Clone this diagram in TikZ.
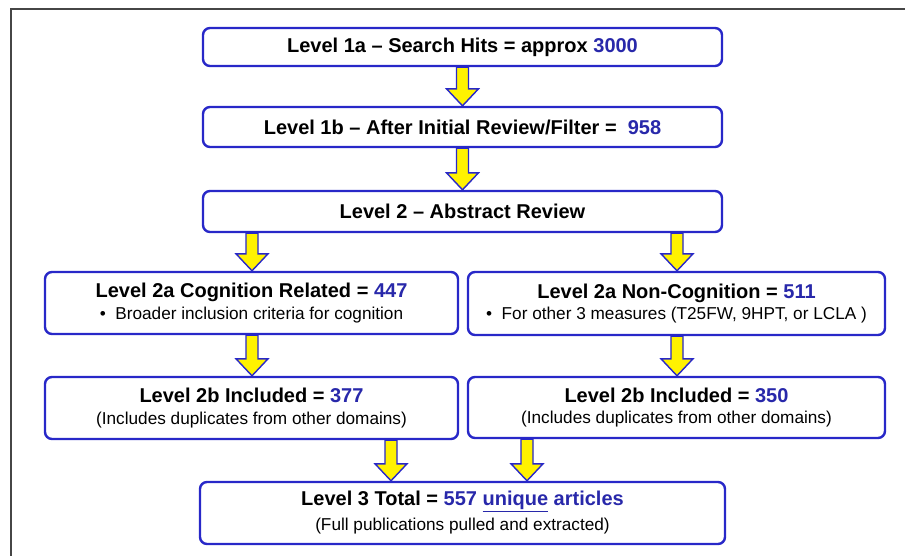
\documentclass[tikz,border=0pt]{standalone}
\usepackage{fontspec}
\setmainfont{Liberation Sans}
\usetikzlibrary{calc}
\definecolor{boxblue}{RGB}{40,40,200}
\definecolor{numblue}{RGB}{40,40,170}
\definecolor{framegray}{RGB}{70,70,70}
\tikzset{
 box/.style={draw=boxblue, line width=2.4pt, rounded corners=7pt, fill=white, align=center, inner sep=0pt, font=\fontsize{17}{21.5}\selectfont},
 fat/.style={draw=boxblue, line width=1.4pt, fill=yellow, line join=miter},
}
\newcommand\ttl[1]{{\fontsize{20}{21.5}\selectfont\bfseries #1}}
\newcommand\sbt[1]{{\fontsize{17.2}{21.5}\selectfont #1}}
\newcommand\blu[1]{\textcolor{numblue}{#1}}
\newcommand\fatarrow[2]{\path[fat] let \p1=(#1), \p2=(#2) in (\x1-6pt,\y1) -- (\x1+6pt,\y1) -- (\x1+6pt,\y2+17pt) -- (\x1+16pt,\y2+17pt) -- (\x1,\y2) -- (\x1-16pt,\y2+17pt) -- (\x1-6pt,\y2+17pt) -- cycle;}
\begin{document}
\begin{tikzpicture}[x=1pt,y=-1pt]
\useasboundingbox[fill=white] (0,0) rectangle (905,555);
\draw[framegray, line width=2pt, line join=miter] (11,556) -- (11,9) -- (906,9);

\node[box, minimum width=519pt, minimum height=38pt] (b1) at (462.5,47) {\ttl{Level 1a -- Search Hits = approx \blu{3000}}};
\node[box, minimum width=519pt, minimum height=40pt] (b2) at (462.5,127) {\ttl{Level 1b -- After Initial Review/Filter = \ \blu{958}}};
\node[box, minimum width=519pt, minimum height=41pt] (b3) at (462.5,211.5) {\ttl{Level 2 -- Abstract Review}};

\node[box, minimum width=413pt, minimum height=62pt] (b4l) at (251.5,303) {\ttl{Level 2a Cognition Related = \blu{447}}\\ \sbt{\textbullet\ \ Broader inclusion criteria for cognition}};
\node[box, minimum width=417pt, minimum height=63pt] (b4r) at (676.5,303.5) {\ttl{Level 2a Non-Cognition = \blu{511}}\\ \sbt{\textbullet\ \ For other 3 measures (T25FW, 9HPT, or LCLA )}};

\node[box, minimum width=413pt, minimum height=62pt] (b5l) at (251.5,408) {\ttl{Level 2b Included = \blu{377}}\\ \sbt{(Includes duplicates from other domains)}};
\node[box, minimum width=417pt, minimum height=61pt] (b5r) at (676.5,407.5) {\ttl{Level 2b Included = \blu{350}}\\ \sbt{(Includes duplicates from other domains)}};

\node[box, minimum width=525pt, minimum height=62pt, font=\fontsize{17}{25}\selectfont] (b6) at (462.5,513) {\ttl{Level 3 Total = \blu{557 \underline{unique} articles}}\\ \sbt{(Full publications pulled and extracted)}};

\coordinate (ax1) at (391,0);
\coordinate (ax2) at (527,0);
\coordinate (ax3) at (252,0);
\coordinate (ax4) at (677,0);

\fatarrow{b1.south}{b2.north}
\fatarrow{b2.south}{b3.north}
\fatarrow{b3.south -| ax3}{b4l.north -| ax3}
\fatarrow{b3.south -| ax4}{b4r.north -| ax4}
\fatarrow{b4l.south -| ax3}{b5l.north -| ax3}
\fatarrow{b4r.south -| ax4}{b5r.north -| ax4}
\fatarrow{b5l.south -| ax1}{b6.north -| ax1}
\fatarrow{b5r.south -| ax2}{b6.north -| ax2}
\end{tikzpicture}
\end{document}
